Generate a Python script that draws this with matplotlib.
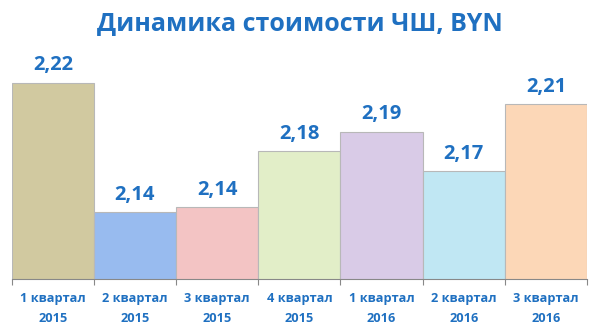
import matplotlib.pyplot as plt
import numpy as np

# quarters and NAV per share values (BYN)
quarters = ['1 квартал\n2015', '2 квартал\n2015', '3 квартал\n2015', '4 квартал\n2015',
            '1 квартал\n2016', '2 квартал\n2016', '3 квартал\n2016']
values = [2.22, 2.141, 2.144, 2.178, 2.190, 2.166, 2.207]
labels = ['2,22', '2,14', '2,14', '2,18', '2,19', '2,17', '2,21']
colors = ['#d1c9a0', '#98bbef', '#f3c4c4', '#e2eec8', '#d9cbe7', '#c0e7f3', '#fcd7b7']

blue = '#1f70c1'
plt.rcParams['font.family'] = ['Open Sans', 'DejaVu Sans']

fig = plt.figure(figsize=(6, 3.33), dpi=100)
ax = fig.add_axes([0.0195, 0.162, 0.959, 0.688])

x = np.arange(len(values))
ax.bar(x, values, width=1.0, bottom=0, color=colors, edgecolor='#b8b8b8', linewidth=0.8)

for xi, v, t in zip(x, values, labels):
    ax.text(xi, v + 0.0045, t, ha='center', va='bottom', color=blue,
            fontsize=14.5, fontweight='bold')

ax.set_xlim(-0.5, len(values) - 0.5)
ax.set_ylim(2.10, 2.24)
ax.set_yticks([])
ax.set_xticks(np.arange(len(values) + 1) - 0.5, minor=False)
ax.set_xticklabels([])
ax.set_xticks(x, minor=True)
ax.set_xticklabels(quarters, minor=True, color=blue, fontsize=9.2, fontweight='bold',
                   linespacing=1.75)
ax.tick_params(axis='x', which='major', length=4, color='#888888')
ax.tick_params(axis='x', which='minor', length=0, pad=9)
for s in ['top', 'right', 'left']:
    ax.spines[s].set_visible(False)
ax.spines['bottom'].set_color('#888888')

fig.text(0.5, 0.93, 'Динамика стоимости ЧШ, BYN', ha='center', va='center',
         color=blue, fontsize=18, fontweight='bold')

fig.savefig('out.png', dpi=100)
